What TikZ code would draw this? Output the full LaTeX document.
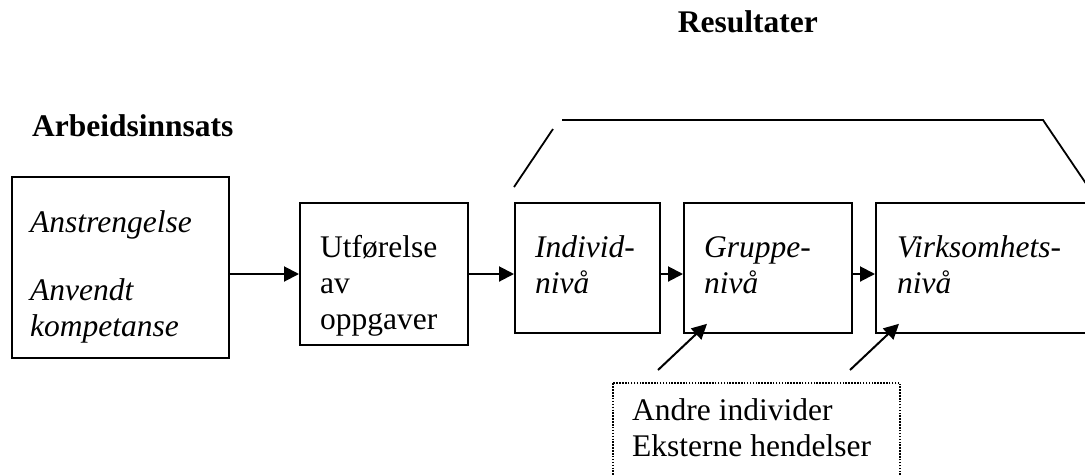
\documentclass[tikz,border=0pt]{standalone}
\usepackage{fontspec}
\setmainfont{Liberation Serif}
\usetikzlibrary{arrows.meta}
% stacked lines whose baseline is the first line
\newcommand\cellstack[1]{\begin{tabular}[t]{@{}l@{}}#1\end{tabular}}
\begin{document}
\begin{tikzpicture}[x=1pt,y=-1pt,
  box/.style={draw, line width=1.8pt, rectangle, inner sep=0pt, anchor=north west},
  dotbox/.style={box, line width=1.5pt, dash pattern=on 1.5pt off 1.4pt},
  txt/.style={inner sep=0pt, anchor=base west, font=\fontsize{31.5}{36}\selectfont},
  itxt/.style={txt, font=\fontsize{31.5}{36}\selectfont\itshape},
  title/.style={txt, font=\fontsize{31.5}{36}\selectfont\bfseries},
  arr/.style={line width=2pt, -{Triangle[length=15pt,width=15pt]}},
  rim/.style={line width=1.8pt}]
\path[use as bounding box, clip] (0,0) rectangle (1085,475);

% headings
\node[title] (arb) at (32,136) {Arbeidsinnsats};
\node[title, anchor=base east] (res) at (818,32) {Resultater};

% boxes
\node[box, minimum width=217pt, minimum height=181pt] (b1) at (11,176) {};
\node[box, minimum width=168pt, minimum height=142pt] (b2) at (299,202) {};
\node[box, minimum width=145pt, minimum height=130pt] (b3) at (514,202) {};
\node[box, minimum width=168pt, minimum height=130pt] (b4) at (683,202) {};
\node[box, minimum width=240pt, minimum height=130pt] (b5) at (875,202) {};
\node[dotbox, minimum width=287pt, minimum height=130pt] (ext) at (612,382) {};

% box texts
\node[itxt] (t1) at (30,232) {\cellstack{Anstrengelse\\[32pt] Anvendt\\ kompetanse}};
\node[txt] (t2) at (320,257) {\cellstack{Utførelse\\ av\\ oppgaver}};
\node[itxt] (t3) at (535,257) {\cellstack{Individ-\\ nivå}};
\node[itxt] (t4) at (704,257) {\cellstack{Gruppe-\\ nivå}};
\node[itxt] (t5) at (897,257) {\cellstack{Virksomhets-\\ nivå}};
\node[txt] (t6) at (632,420) {\cellstack{Andre individer\\ Eksterne hendelser}};

% chain of arrows
\coordinate (row) at (0,274);
\draw[arr] (b1.east |- row) -- (b2.west |- row);
\draw[arr] (b2.east |- row) -- (b3.west |- row);
\draw[arr] (b3.east |- row) -- (b4.west |- row);
\draw[arr] (b4.east |- row) -- (b5.west |- row);

% outside influences
\coordinate (s1) at (658,370);
\coordinate (s2) at (850,370);
\draw[arr] (s1) -- ([shift={(24,-10)}]b4.south west);
\draw[arr] (s2) -- ([shift={(24,-10)}]b5.south west);

% bracket over the result levels
\draw[rim] (514,187) -- (553,129);
\draw[rim] (562,120) -- (1043,120) -- (1087,185);
\end{tikzpicture}
\end{document}
